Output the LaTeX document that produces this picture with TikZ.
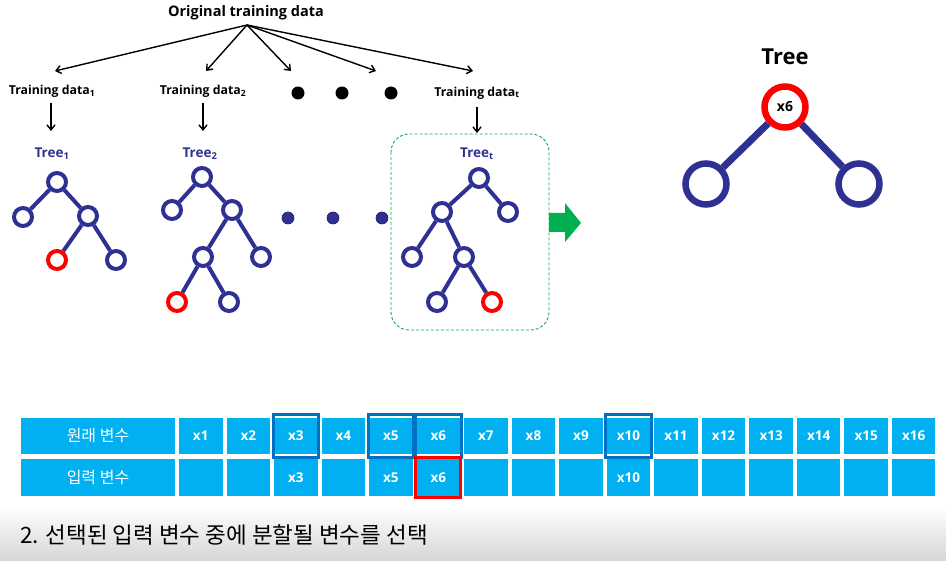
\documentclass[tikz,border=0pt]{standalone}
\usepackage{fontspec}
\setmainfont{Open Sans}
\newfontfamily\kr{Noto Sans CJK KR}
\usetikzlibrary{arrows.meta}
\definecolor{navy}{RGB}{46,49,146}
\definecolor{cellblue}{RGB}{0,176,240}
\definecolor{hlblue}{RGB}{0,112,192}
\definecolor{gr}{RGB}{0,176,80}
\definecolor{rd}{RGB}{255,0,0}
\tikzset{
  tn/.style={circle, draw=navy, line width=4pt, minimum size=18pt, inner sep=0pt, fill=white},
  rn/.style={tn, draw=rd},
  tedge/.style={navy, line width=4pt},
  bn/.style={circle, draw=navy, line width=6.5pt, minimum size=41pt, inner sep=0pt, fill=white},
  bedge/.style={navy, line width=7pt},
  arr/.style={-{Straight Barb[length=5pt,width=8pt]}, line width=1.4pt},
  tlab/.style={font=\bfseries\fontsize{12.3}{13}\selectfont},
  treelab/.style={text=navy, font=\bfseries\fontsize{13.5}{14}\selectfont},
  cell/.style={fill=cellblue, minimum width=43.5pt, minimum height=36pt, inner sep=0pt, text=white, font=\bfseries\fontsize{13.5}{13}\selectfont},
  cell2/.style={cell, minimum height=37pt},
  hcell/.style={fill=cellblue, minimum width=154pt, inner sep=0pt, text=white, font=\kr\fontsize{16}{16}\selectfont},
  hlb/.style={draw=hlblue, line width=3pt},
  hlr/.style={draw=rd, line width=3pt},
  bdot/.style={circle, fill=black, minimum size=13pt, inner sep=0pt},
  ndot/.style={circle, fill=navy, draw=navy!60!black, line width=0.6pt, minimum size=12pt, inner sep=0pt},
}
\begin{document}
\begin{tikzpicture}[x=1pt,y=-1pt]
\useasboundingbox (0,0) rectangle (946,561);
\fill[white] (0,0) rectangle (946,561);
\shade[top color=white, bottom color=black!16] (0,505) rectangle (946,561);

% top
\node[font=\bfseries\fontsize{14.5}{15}\selectfont] (otd) at (246,13) {Original training data};
\coordinate (apex) at (247,25);
\coordinate (a1) at (55,71);
\coordinate (a2) at (206,71);
\coordinate (a3) at (291,71);
\coordinate (a4) at (376,71);
\coordinate (a5) at (473,71);
\foreach \i in {1,...,5} \draw[arr] (apex) -- (a\i);

\node[tlab] (td1) at (52,91) {Training data\textsubscript{1}};
\node[tlab] (td2) at (203,91) {Training data\textsubscript{2}};
\node[tlab] (tdt) at (477,93) {Training data\textsubscript{t}};
\node[bdot] (d1) at (298,93) {};
\node[bdot] (d2) at (342,93) {};
\node[bdot] (d3) at (391,93) {};

\coordinate (s1) at (51,103); \coordinate (e1) at (51,131);
\coordinate (s2) at (203,103); \coordinate (e2) at (203,131);
\coordinate (s3) at (477,107); \coordinate (e3) at (477,133);
\draw[arr] (s1) -- (e1);
\draw[arr] (s2) -- (e2);
\draw[arr] (s3) -- (e3);

% tree 1
\node[treelab] (tl1) at (52,154) {Tree\textsubscript{1}};
\node[tn] (p0) at (57,182) {};
\node[tn] (p1) at (23,217) {};
\node[tn] (p2) at (88,216) {};
\node[rn] (p3) at (57,260) {};
\node[tn] (p4) at (116,260) {};
\draw[tedge] (p0) -- (p1);
\draw[tedge] (p0) -- (p2);
\draw[tedge] (p2) -- (p3);
\draw[tedge] (p2) -- (p4);

% tree 2
\node[treelab] (tl2) at (200,154) {Tree\textsubscript{2}};
\node[tn] (q0) at (202,177) {};
\node[tn] (q1) at (172,210) {};
\node[tn] (q2) at (232,210) {};
\node[tn] (q3) at (203,257) {};
\node[tn] (q4) at (261,257) {};
\node[rn] (q5) at (177,302) {};
\node[tn] (q6) at (229,302) {};
\draw[tedge] (q0) -- (q1);
\draw[tedge] (q0) -- (q2);
\draw[tedge] (q2) -- (q3);
\draw[tedge] (q2) -- (q4);
\draw[tedge] (q3) -- (q5);
\draw[tedge] (q3) -- (q6);

% navy dots
\node[ndot] (n1) at (288,218) {};
\node[ndot] (n2) at (333,218) {};
\node[ndot] (n3) at (382,218) {};

% tree t
\draw[gr, dashed, dash pattern=on 3pt off 2pt, line width=0.9pt, rounded corners=18pt] (391,134) rectangle (549,330);
\node[treelab] (tlt) at (477,154) {Tree\textsubscript{t}};
\node[tn] (r0) at (479,178) {};
\node[tn] (r1) at (442,212) {};
\node[tn] (r2) at (508,212) {};
\node[tn] (r3) at (412,257) {};
\node[tn] (r4) at (464,257) {};
\node[tn] (r5) at (437,302) {};
\node[rn] (r6) at (492,302) {};
\draw[tedge] (r0) -- (r1);
\draw[tedge] (r0) -- (r2);
\draw[tedge] (r1) -- (r3);
\draw[tedge] (r1) -- (r4);
\draw[tedge] (r4) -- (r5);
\draw[tedge] (r4) -- (r6);

% green arrow
\fill[gr] (549,213) -- (565,213) -- (565,203) -- (581,223) -- (565,242) -- (565,232) -- (549,232) -- cycle;

% big tree
\node[font=\bfseries\fontsize{22}{22}\selectfont] (bt) at (785,57) {Tree};
\node[bn, draw=rd, font=\bfseries\fontsize{14}{14}\selectfont] (b0) at (785,107) {x6};
\node[bn] (b1) at (706,184) {};
\node[bn] (b2) at (859,184) {};
\draw[bedge] (b0) -- (b1);
\draw[bedge] (b0) -- (b2);

% table
\node[hcell, minimum height=36pt] (h1) at (98,436) {원래 변수};
\node[hcell, minimum height=37pt] (h2) at (98,477.5) {입력 변수};
\foreach \i in {1,...,16} {
  \pgfmathsetmacro{\cx}{200.75+(\i-1)*47.53}
  \node[cell] (c\i) at (\cx,436) {x\i};
}
\foreach \i/\t in {1/,2/,3/x3,4/,5/x5,6/x6,7/,8/,9/,10/x10,11/,12/,13/,14/,15/,16/} {
  \pgfmathsetmacro{\cx}{200.75+(\i-1)*47.53}
  \node[cell2] (k\i) at (\cx,477.5) {\t};
}
\foreach \i in {3,5,6,10}
  \draw[hlb] ([shift={(-0.8pt,3pt)}]c\i.north west) rectangle ([shift={(0.8pt,-3pt)}]c\i.south east);
\draw[hlr] ([shift={(-1.2pt,1.5pt)}]k6.north west) rectangle ([shift={(0.4pt,-1.5pt)}]k6.south east);

% caption
\node[anchor=west, inner sep=0pt, font=\kr\fontsize{22.5}{23}\selectfont] (cap) at (20,535) {2. 선택된 입력 변수 중에 분할될 변수를 선택};
\end{tikzpicture}
\end{document}
